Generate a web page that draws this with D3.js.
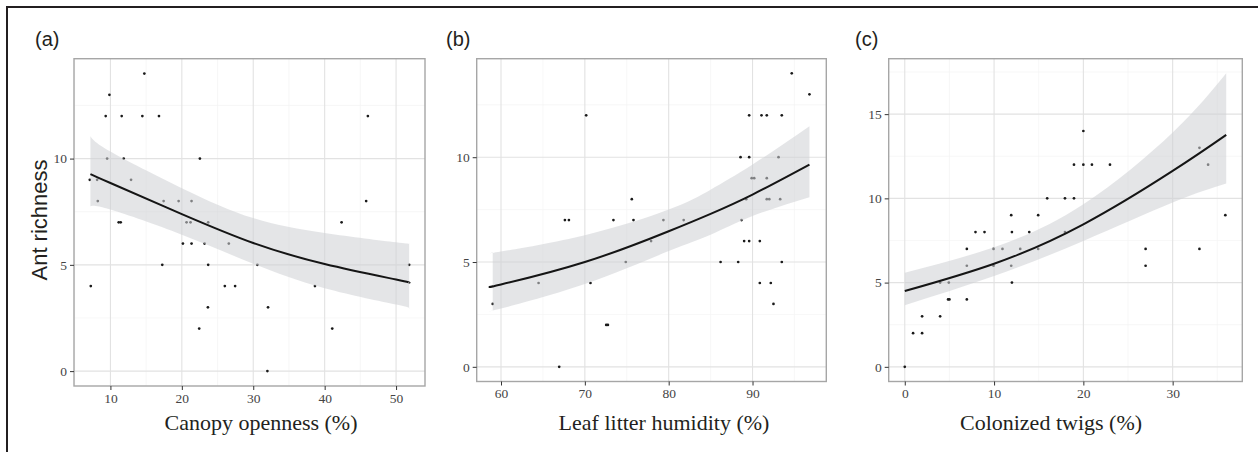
<!DOCTYPE html>
<html>
<head>
<meta charset="utf-8">
<script src="https://cdn.jsdelivr.net/npm/d3@7"></script>
<style>
  html, body { margin: 0; padding: 0; background: #ffffff; }
  svg { display: block; }
</style>
</head>
<body>
<svg id="chart" width="1258" height="452"></svg>
<script>
// ---------- DATA ----------
// Panel (a): canopy openness (%) vs ant richness
const canopyX = [7.11, 8.14, 8.23, 7.25, 9.34, 9.86, 9.54, 11.58, 11.86, 11.16, 11.44, 12.89, 14.47, 14.75, 16.8, 17.26, 17.45, 19.55, 20.15, 20.66, 21.22, 21.36, 21.36, 22.53, 22.43, 23.18, 23.69, 23.69, 23.65, 26.02, 26.58, 27.46, 30.58, 32.07, 31.98, 38.64, 41.06, 42.37, 45.81, 46.05, 51.83];
const canopyY = [9, 9, 8, 4, 12, 13, 10, 12, 10, 7, 7, 9, 12, 14, 12, 5, 8, 8, 6, 7, 7, 8, 6, 10, 2, 6, 7, 5, 3, 4, 6, 4, 5, 3, 0, 4, 2, 7, 8, 12, 5];
const canopyFitX = [7.2, 10, 20, 30, 40, 50, 51.83];
const canopyFit = [9.27, 8.85, 7.39, 6.03, 5.04, 4.31, 4.16];
const canopyUpper = [11.05, 10.33, 8.61, 7.2, 6.5, 6.06, 6.0];
const canopyLower = [7.75, 7.6, 6.42, 5.05, 3.9, 3.13, 2.95];

// Panel (b): leaf litter humidity (%) vs ant richness
const humidityX = [59.01, 64.48, 66.94, 67.62, 68.1, 70.16, 70.67, 72.55, 72.75, 73.41, 74.88, 75.6, 75.8, 77.9, 79.37, 81.79, 86.19, 88.29, 88.57, 88.69, 89.0, 89.6, 89.6, 89.6, 89.25, 89.9, 90.2, 90.87, 90.87, 91.07, 91.7, 91.7, 91.7, 92.0, 92.18, 92.5, 93.1, 93.3, 93.49, 93.49, 94.68, 96.79];
const humidityY = [3, 4, 0, 7, 7, 12, 4, 2, 2, 7, 5, 8, 7, 6, 7, 7, 5, 5, 10, 7, 6, 6, 10, 12, 8, 9, 9, 6, 4, 12, 12, 9, 8, 8, 4, 3, 10, 8, 12, 5, 14, 13];
const humidityFitX = [59.01, 60, 70, 80, 85, 90, 96.79];
const humidityFit = [3.85, 3.93, 5.0, 6.47, 7.3, 8.22, 9.65];
const humidityUpper = [5.45, 5.5, 6.28, 7.5, 8.45, 9.65, 11.48];
const humidityLower = [2.69, 2.78, 3.95, 5.52, 6.3, 7.19, 8.09];

// Panel (c): colonized twigs (%) vs ant richness
const twigsX = [0, 0.93, 1.94, 1.94, 3.96, 3.96, 4.93, 4.85, 5.0, 6.95, 6.95, 6.95, 7.92, 8.93, 9.94, 9.94, 10.94, 11.92, 12.0, 11.92, 12.0, 12.93, 13.94, 14.94, 14.94, 15.95, 17.94, 17.94, 18.95, 18.95, 20.0, 20.0, 20.96, 22.98, 26.97, 26.97, 33.0, 33.0, 33.97, 35.9];
const twigsY = [0, 2, 2, 3, 3, 5, 5, 4, 4, 4, 6, 7, 8, 8, 7, 6, 7, 9, 8, 6, 5, 7, 8, 9, 7, 10, 10, 8, 10, 12, 12, 14, 12, 12, 7, 6, 13, 7, 12, 9];
const twigsFitX = [0, 10, 20, 30, 36];
const twigsFit = [4.5, 6.12, 8.46, 11.63, 13.77];
const twigsUpper = [5.59, 7.1, 9.65, 13.91, 17.42];
const twigsLower = [3.66, 5.39, 7.47, 9.75, 10.88];

// Tick labels
const canopyTicks = [10, 20, 30, 40, 50];
const humidityTicks = [60, 70, 80, 90];
const twigsTicks = [0, 10, 20, 30];
const richnessTicksAB = [0, 5, 10];
const richnessTicksC = [0, 5, 10, 15];

// Text
const panelLabels = ["(a)", "(b)", "(c)"];
const xTitles = ["Canopy openness (%)", "Leaf litter humidity (%)", "Colonized twigs (%)"];
const yTitle = "Ant richness";

// ---------- LAYOUT ----------
const panels = [
  { xs: canopyX, ys: canopyY, fx: canopyFitX, fit: canopyFit, lo: canopyLower, hi: canopyUpper,
    xDomain: [4.9, 54.05], yDomain: [-0.7, 14.7], xTicks: canopyTicks, yTicks: richnessTicksAB,
    left: 74, right: 425, top: 58.7, bottom: 386, labelX: 35, titleX: 261 },
  { xs: humidityX, ys: humidityY, fx: humidityFitX, fit: humidityFit, lo: humidityLower, hi: humidityUpper,
    xDomain: [57.1, 98.8], yDomain: [-0.7, 14.7], xTicks: humidityTicks, yTicks: richnessTicksAB,
    left: 476.7, right: 826.3, top: 58.7, bottom: 381.5, labelX: 446, titleX: 664 },
  { xs: twigsX, ys: twigsY, fx: twigsFitX, fit: twigsFit, lo: twigsLower, hi: twigsUpper,
    xDomain: [-1.8, 37.8], yDomain: [-0.87, 18.29], xTicks: twigsTicks, yTicks: richnessTicksC,
    left: 888.7, right: 1242.3, top: 58.7, bottom: 381.5, labelX: 855, titleX: 1051 }
];

const svg = d3.select("#chart");

// outer frame (left and top rules)
svg.append("line").attr("x1", 7).attr("y1", 6).attr("x2", 7).attr("y2", 452)
  .attr("stroke", "#231f20").attr("stroke-width", 2);
svg.append("line").attr("x1", 6).attr("y1", 7).attr("x2", 1258).attr("y2", 7)
  .attr("stroke", "#231f20").attr("stroke-width", 2);

function minorBreaks(ticks, domain) {
  const step = ticks[1] - ticks[0];
  const out = [];
  for (let i = -1; i < ticks.length; i++) {
    const m = ticks[0] + step * (i + 0.5);
    if (m > domain[0] && m < domain[1]) out.push(m);
  }
  return out;
}

panels.forEach((p, i) => {
  const x = d3.scaleLinear().domain(p.xDomain).range([p.left, p.right]);
  const y = d3.scaleLinear().domain(p.yDomain).range([p.bottom, p.top]);
  const g = svg.append("g");

  g.append("rect").attr("x", p.left).attr("y", p.top)
    .attr("width", p.right - p.left).attr("height", p.bottom - p.top).attr("fill", "#ffffff");

  const xMinor = minorBreaks(p.xTicks, p.xDomain);
  const yMinor = minorBreaks(p.yTicks, p.yDomain);
  g.selectAll(".xminor").data(xMinor).join("line")
    .attr("x1", d => x(d)).attr("x2", d => x(d)).attr("y1", p.top).attr("y2", p.bottom)
    .attr("stroke", "#f3f3f3").attr("stroke-width", 0.7);
  g.selectAll(".yminor").data(yMinor).join("line")
    .attr("y1", d => y(d)).attr("y2", d => y(d)).attr("x1", p.left).attr("x2", p.right)
    .attr("stroke", "#f3f3f3").attr("stroke-width", 0.7);
  g.selectAll(".xmajor").data(p.xTicks).join("line")
    .attr("x1", d => x(d)).attr("x2", d => x(d)).attr("y1", p.top).attr("y2", p.bottom)
    .attr("stroke", "#e2e2e2").attr("stroke-width", 1.1);
  g.selectAll(".ymajor").data(p.yTicks).join("line")
    .attr("y1", d => y(d)).attr("y2", d => y(d)).attr("x1", p.left).attr("x2", p.right)
    .attr("stroke", "#e2e2e2").attr("stroke-width", 1.1);

  const pts = p.xs.map((v, k) => [v, p.ys[k]]);
  g.selectAll(".pt").data(pts).join("circle")
    .attr("cx", d => x(d[0])).attr("cy", d => y(d[1])).attr("r", 1.35)
    .attr("fill", "#1a1a1a");

  const band = p.fx.map((v, k) => ({ x: v, lo: p.lo[k], hi: p.hi[k], f: p.fit[k] }));
  const area = d3.area().x(d => x(d.x)).y0(d => y(d.lo)).y1(d => y(d.hi)).curve(d3.curveNatural);
  g.append("path").datum(band).attr("d", area)
    .attr("fill", "#cfd0d4").attr("fill-opacity", 0.56);

  const line = d3.line().x(d => x(d.x)).y(d => y(d.f)).curve(d3.curveNatural);
  g.append("path").datum(band).attr("d", line)
    .attr("fill", "none").attr("stroke", "#151515").attr("stroke-width", 2);

  g.append("rect").attr("x", p.left).attr("y", p.top)
    .attr("width", p.right - p.left).attr("height", p.bottom - p.top)
    .attr("fill", "none").attr("stroke", "#a6a6a6").attr("stroke-width", 1.4);

  const xAxis = d3.axisBottom(x).tickValues(p.xTicks).tickSize(4).tickPadding(3).tickFormat(d3.format("d"));
  const xa = g.append("g").attr("transform", `translate(0,${p.bottom})`).call(xAxis);
  const yAxis = d3.axisLeft(y).tickValues(p.yTicks).tickSize(4).tickPadding(3).tickFormat(d3.format("d"));
  const ya = g.append("g").attr("transform", `translate(${p.left},0)`).call(yAxis);
  [xa, ya].forEach(a => {
    a.select(".domain").remove();
    a.selectAll(".tick line").attr("stroke", "#333333").attr("stroke-width", 1);
    a.selectAll(".tick text").attr("fill", "#444444")
      .style("font-family", "'Liberation Serif', 'Times New Roman', serif").style("font-size", "13.5px");
  });

  svg.append("text").attr("x", p.labelX).attr("y", 46).text(panelLabels[i])
    .style("font-family", "'Liberation Sans', Arial, sans-serif").style("font-size", "20px")
    .attr("fill", "#231f20");

  svg.append("text").attr("x", p.titleX).attr("y", 430).attr("text-anchor", "middle").text(xTitles[i])
    .style("font-family", "'Liberation Serif', 'Times New Roman', serif").style("font-size", "22px")
    .attr("fill", "#231f20");
});

svg.append("text").attr("transform", "translate(47,220) rotate(-90)").attr("text-anchor", "middle")
  .text(yTitle)
  .style("font-family", "'Liberation Sans', Arial, sans-serif").style("font-size", "22px")
  .attr("fill", "#231f20");
</script>
</body>
</html>
